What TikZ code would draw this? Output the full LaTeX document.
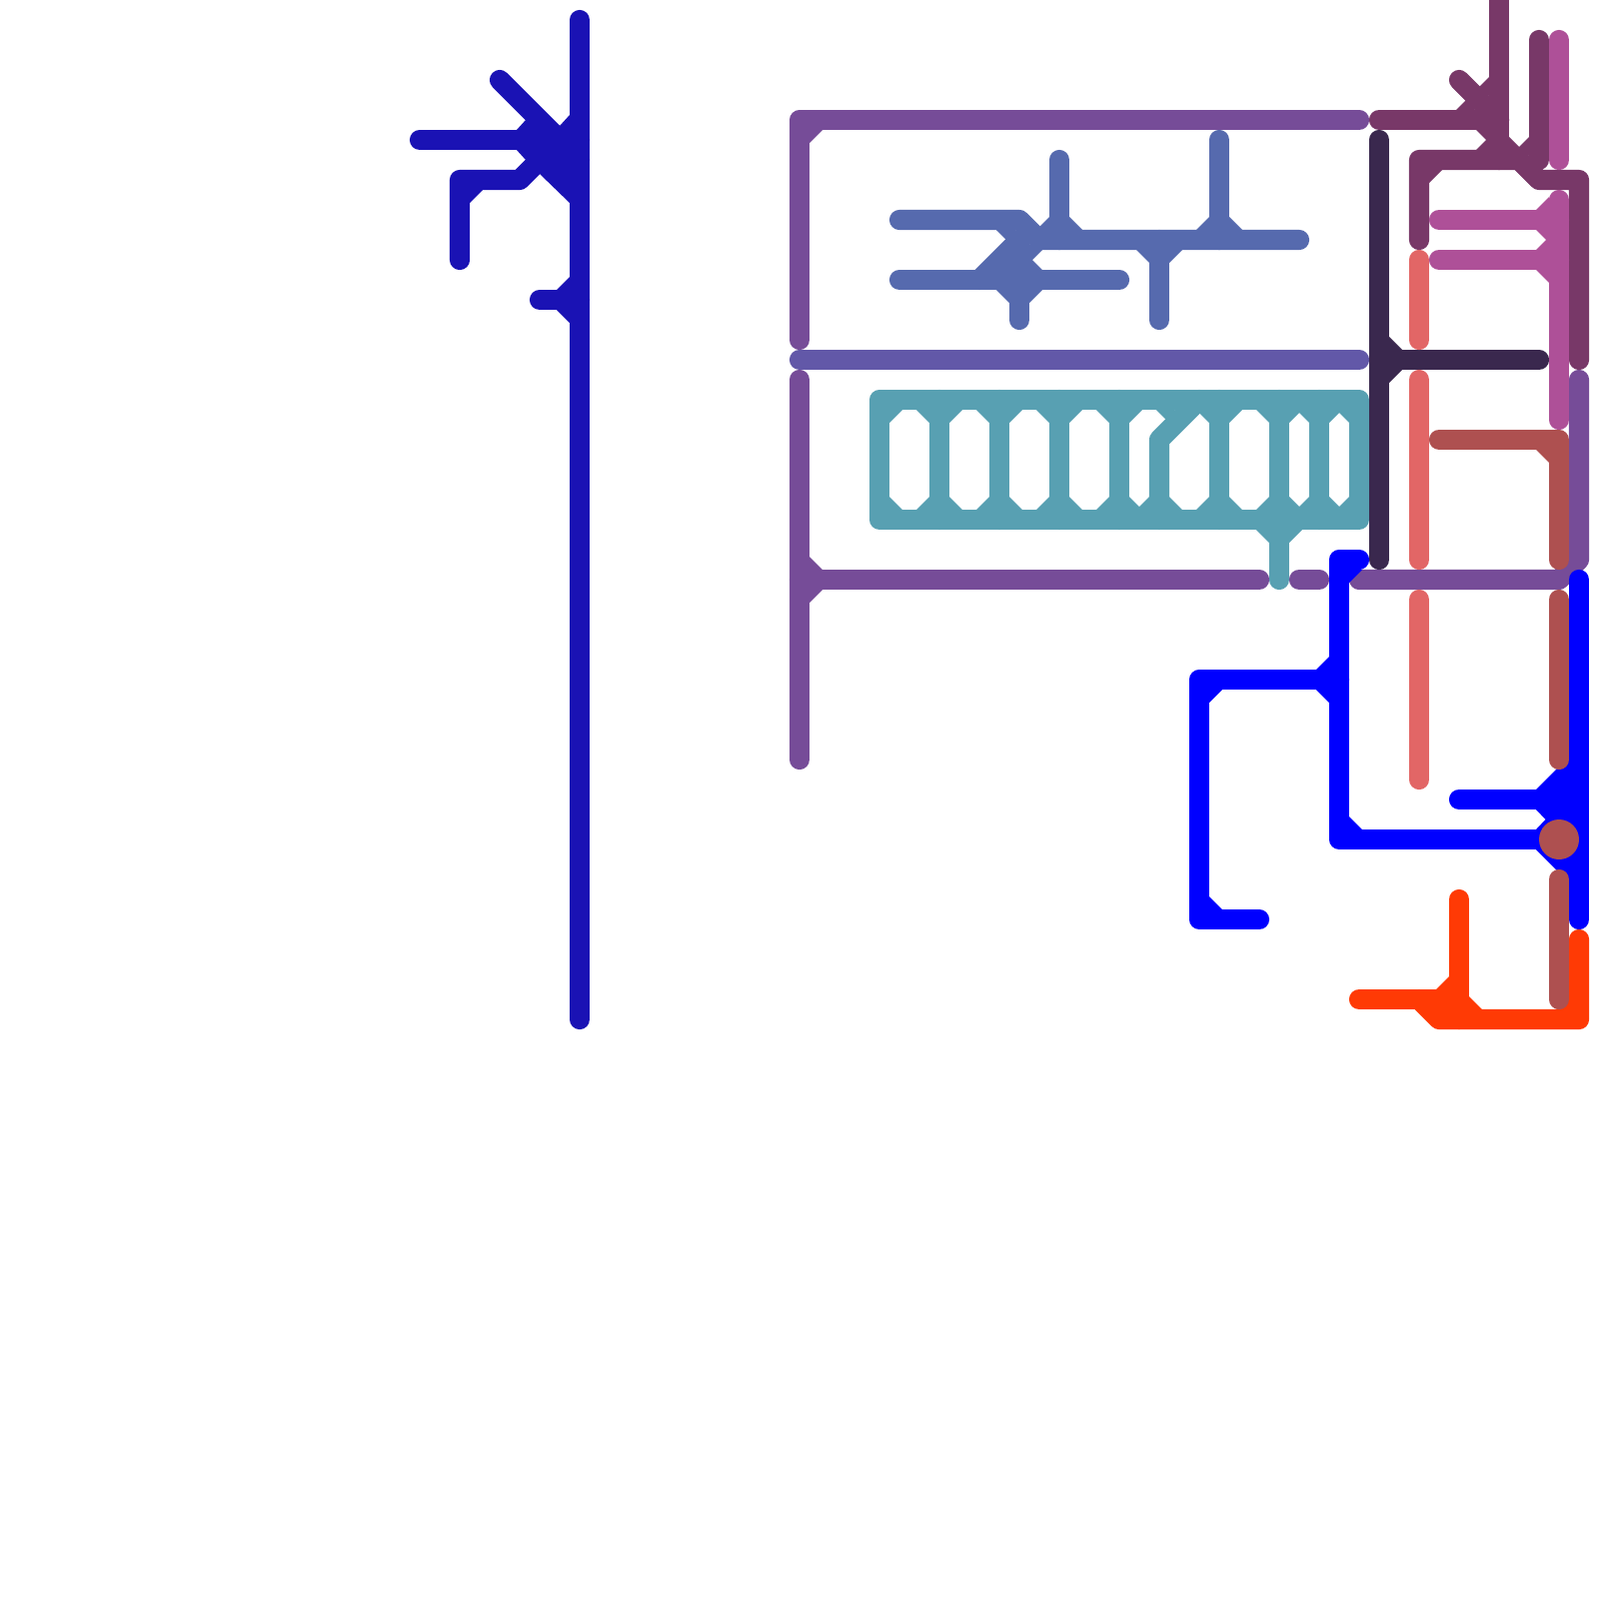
\documentclass[tikz,border=0pt]{standalone}
\usepackage{xcolor}
\usepackage{tikz}
\definecolor{netnavy}{HTML}{1A12B4}
\definecolor{netslate}{HTML}{566AAE}
\definecolor{netpurple}{HTML}{764C98}
\definecolor{netviolet}{HTML}{6258A8}
\definecolor{netteal}{HTML}{58A0B2}
\definecolor{netdark}{HTML}{3A284E}
\definecolor{netplum}{HTML}{783868}
\definecolor{netpink}{HTML}{AE5098}
\definecolor{netsalmon}{HTML}{E26666}
\definecolor{netbrown}{HTML}{AE5050}
\definecolor{netblue}{HTML}{0000FF}
\definecolor{netorange}{HTML}{FF3A05}
\newcommand{\fillet}[4]{\fill (#1,#2) -- (#1+10*#3,#2+23*#4) -- (#1+23*#3,#2+10*#4) -- cycle;}

\begin{document}
\begin{tikzpicture}[x=0.1mm,y=-0.1mm,
    wire/.style={draw,line width=2.02mm,line cap=round,line join=round}]
  \useasboundingbox (0,0) rectangle (1600,1600);

  % navy net
  \begin{scope}[color=netnavy]
    \draw[wire] (580,20)--(580,1020);
    \draw[wire] (500,80)--(580,160);
    \draw[wire] (420,140)--(580,140);
    \draw[wire] (460,260)--(460,180)--(520,180)--(540,160);
    \draw[wire] (540,300)--(580,300);
    \fill (517,130)--(526,120)--(560,126)--(570,115)--(580,115)--(580,203)--(570,203)--(540,174)--(526,160)--(517,150)--cycle;
    \fillet{460}{180}{1}{1}
    \fillet{580}{300}{-1}{-1}
    \fillet{580}{300}{-1}{1}
  \end{scope}

  % purple nets
  \begin{scope}[color=netpurple]
    \draw[wire] (800,340)--(800,120)--(1360,120);
    \fillet{800}{120}{1}{1}
    \draw[wire] (800,380)--(800,760);
    \draw[wire] (800,580)--(1260,580);
    \fillet{800}{580}{1}{-1}
    \fillet{800}{580}{1}{1}
    \draw[wire] (1300,580)--(1320,580);
    \draw[wire] (1360,580)--(1560,580)--(1580,560)--(1580,380);
  \end{scope}
  \draw[wire,color=netviolet] (800,360)--(1360,360);

  % slate net
  \begin{scope}[color=netslate]
    \draw[wire] (900,220)--(1020,220)--(1040,240)--(1300,240);
    \draw[wire] (900,280)--(1120,280);
    \draw[wire] (1020,240)--(980,280);
    \draw[wire] (1020,240)--(1020,320);
    \draw[wire] (1060,160)--(1060,240);
    \draw[wire] (1220,140)--(1220,240);
    \draw[wire] (1160,240)--(1160,320);
    \fillet{1020}{220}{-1}{1}
    \fillet{1020}{240}{-1}{-1}
    \fillet{1020}{240}{-1}{1}
    \fillet{1020}{240}{1}{1}
    \fillet{1020}{280}{-1}{-1}
    \fillet{1020}{280}{1}{-1}
    \fillet{1020}{280}{-1}{1}
    \fillet{1020}{280}{1}{1}
    \foreach \x in {1060,1220} {
      \fillet{\x}{240}{-1}{-1}
      \fillet{\x}{240}{1}{-1}
    }
    \fillet{1160}{240}{-1}{1}
    \fillet{1160}{240}{1}{1}
  \end{scope}

  % teal comb
  \begin{scope}[color=netteal]
    \draw[wire] (880,400) rectangle (1360,520);
    \foreach \x in {940,1000,1060,1120,1220,1280,1320}
      \draw[wire] (\x,400)--(\x,520);
    \draw[wire] (1160,520)--(1160,440)--(1200,400);
    \draw[wire] (1280,520)--(1280,580);
    \foreach \x in {880,940,1000,1060,1120,1220,1280,1320} {
      \fillet{\x}{400}{1}{1}
    }
    \foreach \x in {880,940,1000,1060,1120,1160,1220,1280,1320} {
      \fillet{\x}{520}{1}{-1}
    }
    \foreach \x in {940,1000,1060,1120,1160,1220,1280,1320,1360} {
      \fillet{\x}{520}{-1}{-1}
    }
    \foreach \x in {940,1000,1060,1120,1180,1220,1280,1320,1360} {
      \fillet{\x}{400}{-1}{1}
    }
    \fillet{1280}{520}{-1}{1}
    \fillet{1280}{520}{1}{1}
  \end{scope}

  % dark net
  \begin{scope}[color=netdark]
    \draw[wire] (1380,140)--(1380,560);
    \draw[wire] (1380,360)--(1540,360);
    \fillet{1380}{360}{1}{-1}
    \fillet{1380}{360}{1}{1}
  \end{scope}

  % plum net
  \begin{scope}[color=netplum]
    \draw[wire] (1500,0)--(1500,160);
    \draw[wire] (1460,80)--(1500,120);
    \draw[wire] (1380,120)--(1500,120);
    \draw[wire] (1420,240)--(1420,160)--(1520,160)--(1540,180)--(1580,180)--(1580,360);
    \draw[wire] (1540,40)--(1540,160);
    \fillet{1420}{160}{1}{1}
    \fillet{1500}{100}{-1}{-1}
    \fillet{1480}{120}{-1}{-1}
    \fillet{1500}{120}{-1}{1}
    \fillet{1500}{160}{-1}{-1}
    \fillet{1500}{160}{1}{-1}
    \fillet{1540}{160}{-1}{-1}
  \end{scope}

  % pink net
  \begin{scope}[color=netpink]
    \draw[wire] (1560,40)--(1560,160);
    \draw[wire] (1560,200)--(1560,420);
    \draw[wire] (1440,220)--(1560,220);
    \draw[wire] (1440,260)--(1560,260);
    \fillet{1560}{220}{-1}{-1}
    \fillet{1560}{220}{-1}{1}
    \fillet{1560}{260}{-1}{-1}
    \fillet{1560}{260}{-1}{1}
  \end{scope}

  % salmon net
  \begin{scope}[color=netsalmon]
    \draw[wire] (1420,260)--(1420,340);
    \draw[wire] (1420,380)--(1420,560);
    \draw[wire] (1420,600)--(1420,780);
  \end{scope}

  % blue net
  \begin{scope}[color=netblue]
    \draw[wire] (1260,920)--(1200,920)--(1200,680)--(1340,680);
    \fillet{1200}{680}{1}{1}
    \fillet{1200}{920}{1}{-1}
    \fillet{1340}{680}{-1}{-1}
    \fillet{1340}{680}{-1}{1}
    \draw[wire] (1360,560)--(1340,560)--(1340,840)--(1540,840);
    \fillet{1340}{560}{1}{1}
    \fillet{1340}{840}{1}{-1}
    \draw[wire] (1460,800)--(1540,800);
    \draw[wire] (1580,580)--(1580,920);
    \fill (1537,790)--(1570,757)--(1580,757)--(1580,883)--(1570,883)--(1537,850)--(1537,830)--(1546.5,820)--(1537,810)--cycle;
  \end{scope}

  % orange net
  \begin{scope}[color=netorange]
    \draw[wire] (1360,1000)--(1460,1000);
    \draw[wire] (1460,900)--(1460,1020);
    \draw[wire] (1420,1000)--(1440,1020)--(1580,1020)--(1580,940);
    \fillet{1460}{1000}{-1}{-1}
    \fillet{1460}{1020}{1}{-1}
    \fillet{1580}{1020}{-1}{-1}
  \end{scope}

  % brown net
  \begin{scope}[color=netbrown]
    \draw[wire] (1440,440)--(1560,440)--(1560,560);
    \fillet{1560}{440}{-1}{1}
    \draw[wire] (1560,600)--(1560,760);
    \draw[wire] (1560,880)--(1560,1000);
    \fill (1560,840) circle (20);
  \end{scope}
\end{tikzpicture}
\end{document}
